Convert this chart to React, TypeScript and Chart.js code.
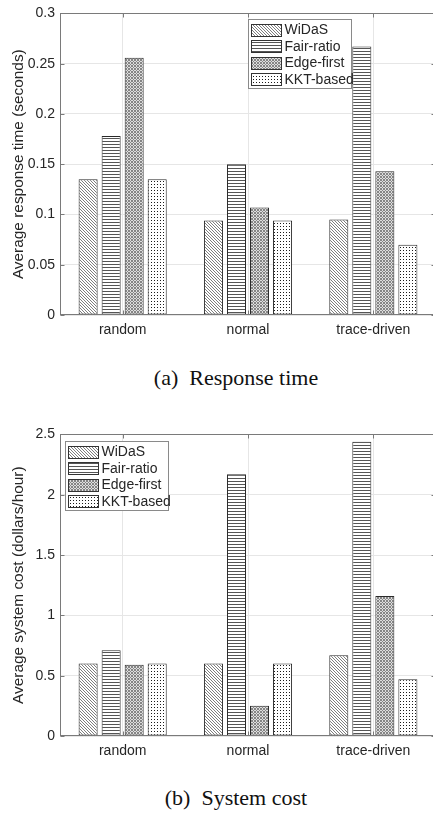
import React, { useEffect, useRef } from 'react';
import { Chart, registerables } from 'chart.js';

Chart.register(...registerables);

const categories = ['random', 'normal', 'trace-driven'];
const seriesNames = ['WiDaS', 'Fair-ratio', 'Edge-first', 'KKT-based'];

const responseWiDaS = [0.135, 0.094, 0.095];
const responseFair = [0.178, 0.15, 0.267];
const responseEdge = [0.256, 0.107, 0.143];
const responseKKT = [0.135, 0.094, 0.07];

const costWiDaS = [0.6, 0.6, 0.67];
const costFair = [0.71, 2.17, 2.44];
const costEdge = [0.59, 0.25, 1.16];
const costKKT = [0.6, 0.6, 0.47];

const responseTicks = [0, 0.05, 0.1, 0.15, 0.2, 0.25, 0.3];
const responseTickLabels = ['0', '0.05', '0.1', '0.15', '0.2', '0.25', '0.3'];
const costTicks = [0, 0.5, 1, 1.5, 2, 2.5];
const costTickLabels = ['0', '0.5', '1', '1.5', '2', '2.5'];

const SANS = '"Liberation Sans", Arial, sans-serif';
const TEXT = '#262626';

function makePattern(kind: number): CanvasPattern | string {
  const c = document.createElement('canvas');
  c.width = 3;
  c.height = 3;
  const g = c.getContext('2d');
  if (!g) return '#ccc';
  g.fillStyle = '#ffffff';
  g.fillRect(0, 0, 3, 3);
  if (kind === 0) {
    g.fillStyle = '#7e7e7e';
    for (let i = 0; i < 3; i++) g.fillRect(i, i, 1, 1);
  } else if (kind === 1) {
    g.fillStyle = '#555555';
    g.fillRect(0, 0, 3, 1);
  } else if (kind === 2) {
    g.fillStyle = '#dedede';
    g.fillRect(0, 0, 3, 3);
    g.fillStyle = '#858585';
    g.fillRect(0, 0, 1, 1);
    g.fillRect(1, 1, 1, 1);
    g.fillRect(2, 2, 1, 1);
    g.fillRect(2, 0, 1, 1);
    g.fillRect(0, 2, 1, 1);
  } else {
    g.fillStyle = '#1a1a1a';
    g.fillRect(1, 1, 1, 1);
  }
  const p = g.createPattern(c, 'repeat');
  return p || '#ccc';
}

const framePlugin = {
  id: 'frame',
  afterDraw(chart: any, _args: any, opts: any) {
    const { ctx, chartArea: a } = chart;
    const L = Math.round(a.left) + 0.5;
    const R = Math.round(a.right) - 0.5;
    const T = Math.round(a.top) + 0.5;
    const B = Math.round(a.bottom) - 0.5;
    ctx.save();
    ctx.strokeStyle = '#7a7a7a';
    ctx.lineWidth = 1;
    ctx.strokeRect(L, T, R - L, B - T);
    const ys = chart.scales.y;
    ctx.beginPath();
    ys.ticks.forEach((_t: any, i: number) => {
      const y = Math.round(ys.getPixelForTick(i)) + 0.5;
      ctx.moveTo(L, y);
      ctx.lineTo(L + 4, y);
      ctx.moveTo(R, y);
      ctx.lineTo(R - 4, y);
    });
    const xs = chart.scales.x;
    xs.ticks.forEach((_t: any, i: number) => {
      const x = Math.round(xs.getPixelForTick(i)) + 0.5;
      ctx.moveTo(x, B);
      ctx.lineTo(x, B - 4);
      ctx.moveTo(x, T);
      ctx.lineTo(x, T + 4);
    });
    ctx.stroke();

    // legend
    const lx = Math.round(a.left + opts.legendX) + 0.5;
    const ly = Math.round(a.top + opts.legendY) + 0.5;
    const lw = 103;
    const lh = 69;
    ctx.fillStyle = '#ffffff';
    ctx.fillRect(lx, ly, lw, lh);
    ctx.strokeStyle = '#8a8a8a';
    ctx.strokeRect(lx, ly, lw, lh);
    ctx.font = '14px ' + SANS;
    ctx.textBaseline = 'middle';
    ctx.textAlign = 'left';
    chart.data.datasets.forEach((ds: any, i: number) => {
      const cy = ly + 10.5 + i * 16.4;
      const sx = lx + 3;
      const sy = Math.round(cy - 6) + 0.5;
      ctx.fillStyle = ds.backgroundColor;
      ctx.fillRect(sx, sy, 30, 12);
      ctx.strokeStyle = '#333333';
      ctx.strokeRect(sx, sy, 30, 12);
      ctx.fillStyle = TEXT;
      ctx.fillText(ds.label, sx + 33, cy + 0.5);
    });
    ctx.restore();
  },
};

interface BarChartProps {
  series: number[][];
  ticks: number[];
  tickLabels: string[];
  yTitle: string;
  legendX: number;
  legendY: number;
}

function BarChart(props: BarChartProps) {
  const ref = useRef<HTMLCanvasElement | null>(null);
  useEffect(() => {
    if (!ref.current) return;
    const patterns = [0, 1, 2, 3].map((k) => makePattern(k));
    const { ticks, tickLabels } = props;
    const chart = new Chart(ref.current, {
      type: 'bar',
      data: {
        labels: categories,
        datasets: seriesNames.map((name, i) => ({
          label: name,
          data: props.series[i],
          backgroundColor: patterns[i] as any,
          borderColor: '#2a2a2a',
          borderWidth: 1,
          borderSkipped: false,
          categoryPercentage: 0.735,
          barPercentage: 0.826,
        })),
      },
      options: {
        responsive: false,
        animation: false,
        devicePixelRatio: 1,
        layout: { padding: { top: 13, right: 4, left: 0, bottom: 0 } },
        plugins: {
          legend: { display: false },
          tooltip: { enabled: false },
          frame: { legendX: props.legendX, legendY: props.legendY },
        } as any,
        scales: {
          x: {
            grid: { color: '#e6e6e6', offset: false, drawTicks: false },
            border: { display: false },
            ticks: {
              color: TEXT,
              font: { family: SANS, size: 14 },
              padding: 7,
              maxRotation: 0,
            },
            afterFit: (s: any) => {
              s.height = 30;
            },
          },
          y: {
            min: ticks[0],
            max: ticks[ticks.length - 1],
            grid: { color: '#e6e6e6', drawTicks: false },
            border: { display: false },
            afterBuildTicks: (s: any) => {
              s.ticks = ticks.map((v) => ({ value: v }));
            },
            ticks: {
              color: TEXT,
              font: { family: SANS, size: 14 },
              padding: 5,
              callback: (_v: any, i: number) => tickLabels[i],
            },
            title: {
              display: true,
              text: props.yTitle,
              color: TEXT,
              font: { family: SANS, size: 15.4 },
              padding: { top: 10, bottom: 0 },
            },
            afterFit: (s: any) => {
              s.width = 60;
            },
          },
        },
      },
      plugins: [framePlugin as any],
    });
    return () => chart.destroy();
  }, []);
  return <canvas ref={ref} width={440} height={345} style={{ display: 'block' }} />;
}

const captionStyle: React.CSSProperties = {
  position: 'absolute',
  left: 0,
  width: 472,
  textAlign: 'center',
  fontFamily: '"Liberation Serif", "Times New Roman", serif',
  fontSize: 22,
  lineHeight: '22px',
  color: '#111',
  whiteSpace: 'pre',
};

export default function App() {
  return (
    <div
      style={{
        position: 'absolute',
        left: 0,
        top: 0,
        width: 433,
        height: 815,
        overflow: 'hidden',
        background: '#fff',
      }}
    >
      <div style={{ position: 'absolute', left: 0, top: 0 }}>
        <BarChart
          series={[responseWiDaS, responseFair, responseEdge, responseKKT]}
          ticks={responseTicks}
          tickLabels={responseTickLabels}
          yTitle="Average response time (seconds)"
          legendX={188}
          legendY={6}
        />
      </div>
      <div style={{ ...captionStyle, top: 367 }}>{'(a)  Response time'}</div>
      <div style={{ position: 'absolute', left: 0, top: 421 }}>
        <BarChart
          series={[costWiDaS, costFair, costEdge, costKKT]}
          ticks={costTicks}
          tickLabels={costTickLabels}
          yTitle="Average system cost (dollars/hour)"
          legendX={5}
          legendY={7}
        />
      </div>
      <div style={{ ...captionStyle, top: 787 }}>{'(b)  System cost'}</div>
    </div>
  );
}
